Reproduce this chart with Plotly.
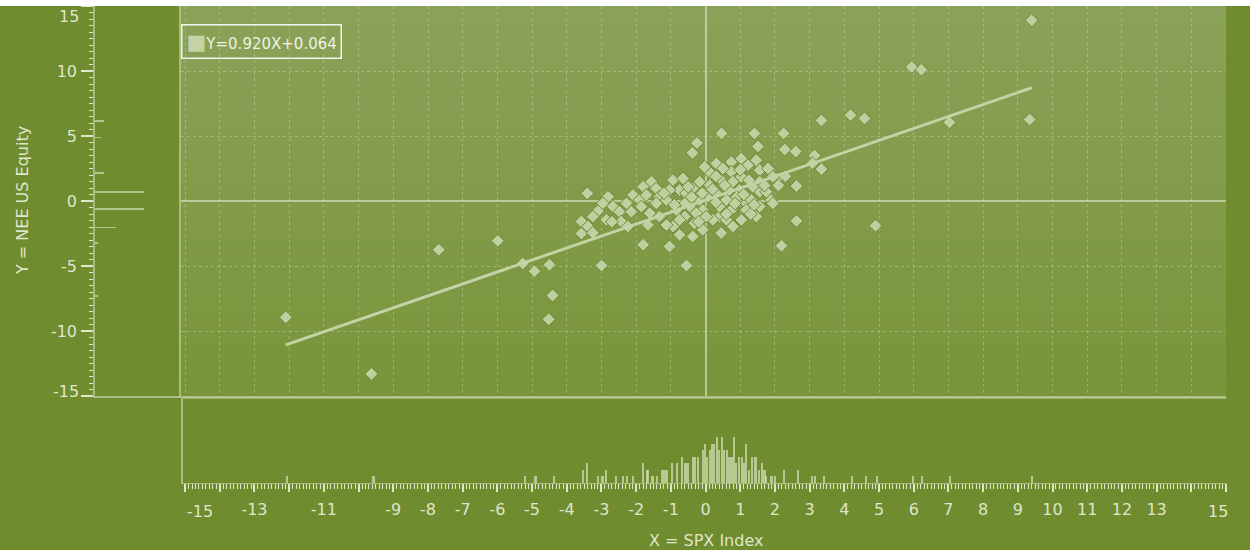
import plotly.graph_objects as go

# Regression fit shown in the legend box
SLOPE = 0.920
INTERCEPT = 0.064

# Weekly returns: X = SPX Index, Y = NEE US Equity
X_SCATTER = [
    -12.1, -9.63, -7.69, -5.99, -5.27, -4.93, -4.5, -4.41, -4.52, -3.0, -0.55,
    0.46, 1.41, 2.25, 2.19, 2.62, 2.62, 2.6, 3.14, 3.34, 3.34, 3.08, 4.18, 4.58,
    4.9, 5.94, 6.22, 7.03, 9.34, 9.4,
    -0.25, -0.38, 1.51, 2.28, -3.41, -2.81, -3.1, -2.67, -3.58, -3.39, -3.58,
    -2.86, -2.48, -2.43, -2.24, -2.09, -1.8, -1.9, -1.56, -1.42, -1.33, -1.85,
    -1.66, -1.8, -0.94, -0.75, -1.13, -1.04, -0.94, -0.6, -0.75, -0.37, -0.32,
    -0.03, 0.31, 0.74, 1.03, 1.22, 1.56, 1.8, 0.45, 0.74, 1.03, 1.56, 1.89,
    1.17, 0.74, 0.4, -0.08, 0.07, 0.6, 0.79, 0.45, -0.08, 1.46, 1.94, 1.56,
    2.08, 0.12, -0.17, -0.56, -0.46, 0.21, 1.03, 1.32, 0.98, 0.69, 0.31, -0.17,
    -0.84, -1.33, -1.61, -2.14, -2.28, -2.96, -3.25, 1.46, 1.94, 1.56, 1.75,
    1.17, 0.4, -1.04, -0.65, -0.37, 0.16, 0.5, 0.79, 1.36, 0.02, 0.6, -0.27,
    -0.75, -1.13, -1.42, -1.71, 2.1, 2.3, 0.9, 1.1, 1.4, 0.3, -0.4, -0.6, 1.7,
    0.2, -0.9, -1.2, 0.55, 1.25, 0.85, -0.1, 0.3, -0.5, 1.0, 0.6, 1.3, -0.2,
    -2.7, -3.25,
]
Y_SCATTER = [
    -8.95, -13.3, -3.75, -3.06, -4.8, -5.4, -4.9, -7.27, -9.1, -4.97, -4.97,
    5.2, 5.2, 5.2, -3.44, -1.53, 1.15, 3.8, 3.5, 6.2, 2.45, 2.9, 6.6, 6.35,
    -1.9, 10.3, 10.1, 6.05, 6.27, 13.9,
    4.46, 3.7, 4.2, 3.96, 0.59, 0.33, -0.77, -0.43, -1.58, -1.96, -2.5,
    -1.45, -0.82, -1.58, -1.96, 0.46, 1.1, 0.08, 1.48, 0.97, 0.33, -0.43,
    -1.84, -3.37, 1.61, 0.84, 0.08, -3.5, -1.96, -1.2, -2.6, -2.73, -1.71,
    2.62, 2.88, 3.0, 3.26, 2.75, 2.37, 2.5, 1.61, 2.24, 1.86, 0.71, 0.08,
    -0.18, -0.69, -1.2, -0.69, 0.33, 0.08, -1.96, -2.47, -2.22, -1.2, -0.18, 1.48,
    1.74, 1.22, 1.48, 0.59, -0.43, -1.45, -1.45, 0.08, 0.84, 0.84, 0.59, 0.08,
    -0.69, -1.2, -0.94, -0.82, -0.18, -0.18, -1.2, 3.14, 1.86, -0.43, 0.71,
    -0.69, -0.43, 0.84, 1.74, 0.97, 2.12, 2.5, 1.48, 1.1, -1.2, -1.45, -0.94,
    -1.45, -1.84, -0.18, 0.46, 1.2, 1.9, 0.3, 0.5, -0.3, -0.1, 0.3, -0.2, 1.2,
    0.9, -0.3, 0.6, 1.2, 1.6, -0.2, 0.6, 1.9, 1.1, 2.4, -1.0, -1.0, -1.6,
    -1.6, -2.45,
]

# Marginal frequency of X (bottom panel)
HIST_X = [
    -12.06, -9.57, -5.21, -4.9, -4.36, -3.54, -3.42, -3.11, -2.97, -2.86, -2.59,
    -2.39, -2.26, -2.08, -1.8, -1.7, -1.65, -1.53, -1.4, -1.24, -1.17, -1.1,
    -0.96, -0.82, -0.67, -0.6, -0.52, -0.37, -0.3, -0.23, -0.08, -0.01, 0.05,
    0.12, 0.18, 0.25, 0.33, 0.4, 0.48, 0.54, 0.62, 0.69, 0.75, 0.82, 0.89,
    0.96, 1.04, 1.1, 1.16, 1.24, 1.34, 1.44, 1.53, 1.62, 1.7, 1.75, 1.9, 2.0,
    2.25, 2.66, 3.08, 3.16, 3.41, 4.22, 4.63, 4.93, 5.99, 6.25, 7.05, 9.41,
]
HIST_COUNT = [
    1, 1, 1, 1, 1, 2, 3, 1, 1, 2, 1,
    1, 1, 1, 3, 2, 2, 1, 1, 2, 2, 2,
    3, 3, 4, 3, 3, 4, 4, 4, 5, 6, 4,
    5, 6, 6, 7, 5, 7, 5, 5, 4, 4, 7, 3,
    4, 4, 3, 6, 2, 4, 4, 2, 3, 2, 1, 1, 1,
    2, 2, 1, 1, 1, 1, 1, 1, 1, 1, 1, 1,
]

# Marginal frequency of Y (left panel)
LEFT_HIST_Y = [6.14, 4.9, 2.17, 0.68, -0.61, -2.04, -3.24, -7.32]
LEFT_HIST_COUNT = [3, 2, 3, 16, 16, 7, 1, 1]

# Axis tick marks and labels
X_TICKS = list(range(-15, 16))
X_TICK_TEXT = ["", "", "-13", "", "-11", "", "-9", "-8", "-7", "-6", "-5", "-4",
               "-3", "-2", "-1", "0", "1", "2", "3", "4", "5", "6", "7", "8", "9",
               "10", "11", "12", "13", "", ""]
Y_TICKS = [-15, -10, -5, 0, 5, 10, 15]
Y_TICK_TEXT = ["", "-10", "-5", "0", "5", "10", ""]
EDGE_LABELS = ["-15", "15"]

W, H = 1250, 550
FONT = "DejaVu Sans, Verdana, sans-serif"
FS = 16
TXT = "#dfe6cc"
OUTER = "#6f8c2f"
MARK = "#bfd0a0"
EDGE = "rgba(215,228,190,0.55)"
GRID = "rgba(235,242,220,0.30)"


def px_x(p):
    return p / W


def px_y(p):
    return 1 - p / H


main_x_dom = [px_x(181), px_x(1226)]
main_y_dom = [px_y(396), px_y(6)]

fig = go.Figure()

fig.add_trace(go.Scatter(
    x=X_SCATTER, y=Y_SCATTER, mode="markers", xaxis="x", yaxis="y",
    marker=dict(symbol="diamond", size=10, color=MARK,
                line=dict(color="rgba(104,134,46,0.9)", width=1)),
    showlegend=False, hoverinfo="x+y",
))

x_fit = [min(X_SCATTER), max(X_SCATTER)]
y_fit = [SLOPE * v + INTERCEPT for v in x_fit]
fig.add_trace(go.Scatter(
    x=x_fit, y=y_fit, mode="lines", xaxis="x", yaxis="y",
    line=dict(color="#c3d3a6", width=3), showlegend=False,
))

fig.add_trace(go.Bar(
    x=HIST_X, y=HIST_COUNT, width=0.06, xaxis="x3", yaxis="y3",
    marker=dict(color="rgba(208,220,180,0.75)", line=dict(width=0)),
    showlegend=False,
))

fig.add_trace(go.Bar(
    y=LEFT_HIST_Y, x=LEFT_HIST_COUNT, orientation="h", width=0.12,
    xaxis="x2", yaxis="y2",
    marker=dict(color="rgba(208,220,180,0.7)", line=dict(width=0)),
    showlegend=False,
))

# Vertical gradient of the main plotting area
shapes = []
n_bands = 40
top_c = (139, 161, 89)
bot_c = (120, 149, 58)
for i in range(n_bands):
    t = (i + 0.5) / n_bands
    c = tuple(round(bot_c[k] + (top_c[k] - bot_c[k]) * t) for k in range(3))
    shapes.append(dict(
        type="rect", xref="x domain", yref="y domain",
        x0=0, x1=1, y0=i / n_bands, y1=(i + 1) / n_bands + 0.002,
        fillcolor="rgb(%d,%d,%d)" % c, line=dict(width=0), layer="below",
    ))
# White strip at the top of the page
shapes.append(dict(type="rect", xref="paper", yref="paper", x0=0, x1=1,
                   y0=px_y(6), y1=1, fillcolor="white", line=dict(width=0)))
# Top border of the bottom panel
shapes.append(dict(type="line", xref="x3 domain", yref="y3 domain",
                   x0=0, x1=1, y0=1, y1=1, line=dict(color=EDGE, width=1.5)))

tick_font = dict(family=FONT, size=FS, color=TXT)

annotations = [
    dict(text="Y = NEE US Equity", xref="paper", yref="paper",
         x=px_x(22), y=px_y(201), xanchor="center", yanchor="middle",
         textangle=-90, showarrow=False,
         font=dict(family=FONT, size=FS, color=TXT)),
    dict(text="X = SPX Index", xref="paper", yref="paper",
         x=px_x(706), y=px_y(540), xanchor="center", yanchor="middle",
         showarrow=False, font=dict(family=FONT, size=FS, color=TXT)),
    dict(text='<span style="font-size:21px;color:#c3d3a6">■</span>'
              'Y=%.3fX+%.3f' % (SLOPE, INTERCEPT),
         xref="paper", yref="paper", x=px_x(181), y=px_y(24),
         xanchor="left", yanchor="top", showarrow=False,
         bordercolor="#f2f5ea", borderwidth=1.5, borderpad=4,
         font=dict(family=FONT, size=15, color="#eef2e2")),
    # end labels of the axes, nudged inside the panel
    dict(text=EDGE_LABELS[0], xref="x3", yref="paper", x=-15, xshift=15,
         y=px_y(511), yanchor="middle", showarrow=False, font=tick_font),
    dict(text=EDGE_LABELS[1], xref="x3", yref="paper", x=15, xshift=-8,
         y=px_y(511), yanchor="middle", showarrow=False, font=tick_font),
    dict(text=EDGE_LABELS[1], xref="paper", yref="y2", x=px_x(81), xanchor="right",
         y=15, yshift=-11, yanchor="middle", showarrow=False, font=tick_font),
    dict(text=EDGE_LABELS[0], xref="paper", yref="y2", x=px_x(81), xanchor="right",
         y=-15, yshift=5, yanchor="middle", showarrow=False, font=tick_font),
]

fig.update_layout(
    width=W, height=H,
    margin=dict(l=0, r=0, t=0, b=0),
    paper_bgcolor=OUTER, plot_bgcolor="rgba(0,0,0,0)",
    font=dict(family=FONT, size=FS, color=TXT),
    showlegend=False, bargap=0,
    xaxis=dict(domain=main_x_dom, range=[-15.12, 15], anchor="y",
               dtick=1, tick0=0, showgrid=True, gridcolor=GRID, griddash="dot",
               gridwidth=1, zeroline=True, zerolinecolor="rgba(225,235,205,0.6)",
               zerolinewidth=1.5, showticklabels=False, ticks="",
               showline=True, linecolor=EDGE, linewidth=1.5),
    yaxis=dict(domain=main_y_dom, range=[-15, 15], anchor="x",
               dtick=5, tick0=0, showgrid=True, gridcolor=GRID, griddash="dot",
               gridwidth=1, zeroline=True, zerolinecolor="rgba(225,235,205,0.6)",
               zerolinewidth=1.5, showticklabels=False, ticks="",
               showline=True, linecolor=EDGE, linewidth=1.5),
    xaxis2=dict(domain=[px_x(95), px_x(180)], range=[0, 28], anchor="y2",
                showgrid=False, zeroline=False, showticklabels=False, ticks="",
                showline=True, linecolor=EDGE, linewidth=1.5),
    yaxis2=dict(domain=main_y_dom, range=[-15, 15], anchor="x2", side="left",
                showgrid=False, zeroline=False, tickmode="array",
                tickvals=Y_TICKS, ticktext=Y_TICK_TEXT, ticks="outside",
                ticklen=12, tickwidth=1.5, tickcolor=TXT, tickfont=tick_font,
                ticklabelstandoff=1,
                showline=True, linecolor=EDGE, linewidth=1.5,
                minor=dict(dtick=0.5, tick0=0, ticks="outside", ticklen=4,
                           tickwidth=1, tickcolor=TXT, showgrid=False)),
    xaxis3=dict(domain=[px_x(183), px_x(1226)], range=[-15.06, 15], anchor="y3",
                showgrid=False, zeroline=False, tickmode="array",
                tickvals=X_TICKS, ticktext=X_TICK_TEXT, ticks="outside",
                ticklen=8, tickwidth=1.5, tickcolor=TXT, tickfont=tick_font,
                ticklabelstandoff=4,
                showline=True, linecolor=EDGE, linewidth=1,
                minor=dict(dtick=0.1, tick0=0, ticks="outside", ticklen=5,
                           tickwidth=1, tickcolor=TXT, showgrid=False)),
    yaxis3=dict(domain=[px_y(483), px_y(398)], range=[0, 13], anchor="x3",
                showgrid=False, zeroline=False, showticklabels=False, ticks="",
                showline=True, linecolor=EDGE, linewidth=1.5),
    shapes=shapes,
    annotations=annotations,
)

fig.write_html("out.html")
